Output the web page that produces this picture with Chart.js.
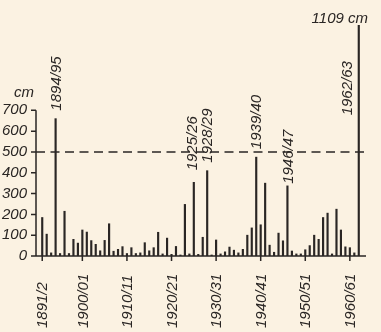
<!DOCTYPE html>
<html>
<head>
<meta charset="utf-8">
<script src="https://cdn.jsdelivr.net/npm/chart.js@4.4.1/dist/chart.umd.min.js"></script>
<style>
  html, body { margin: 0; background: #fbf2e2; }
  #wrap { width: 381px; height: 332px; }
</style>
</head>
<body>
<div id="wrap"><canvas id="snow"></canvas></div>
<script>
// winter seasons and snow depth in cm
const seasons = [
  '1891/2', '1892/93', '1893/94', '1894/95', '1895/96', '1896/97', '1897/98', '1898/99', '1899/00',
  '1900/01', '1901/02', '1902/03', '1903/04', '1904/05', '1905/06', '1906/07', '1907/08', '1908/09', '1909/10',
  '1910/11', '1911/12', '1912/13', '1913/14', '1914/15', '1915/16', '1916/17', '1917/18', '1918/19', '1919/20',
  '1920/21', '1921/22', '1922/23', '1923/24', '1924/25', '1925/26', '1926/27', '1927/28', '1928/29', '1929/30',
  '1930/31', '1931/32', '1932/33', '1933/34', '1934/35', '1935/36', '1936/37', '1937/38', '1938/39', '1939/40',
  '1940/41', '1941/42', '1942/43', '1943/44', '1944/45', '1945/46', '1946/47', '1947/48', '1948/49', '1949/50',
  '1950/51', '1951/52', '1952/53', '1953/54', '1954/55', '1955/56', '1956/57', '1957/58', '1958/59', '1959/60',
  '1960/61', '1961/62', '1962/63'
];
const snowCm = [
  185, 105, 15, 660, 12, 215, 12, 80, 62,
  125, 115, 74, 56, 25, 75, 155, 23, 32, 45,
  12, 40, 12, 15, 64, 25, 40, 114, 10, 86,
  8, 46, 5, 248, 10, 354, 8, 90, 410, 5,
  77, 10, 20, 43, 28, 15, 32, 100, 135, 475,
  150, 350, 52, 18, 110, 73, 337, 24, 10, 10,
  30, 50, 100, 80, 185, 206, 10, 225, 125, 44,
  40, 15, 1109
];
const yTicks = [0, 100, 200, 300, 400, 500, 600, 700];
const xTickSeasons = ['1891/2', '1900/01', '1910/11', '1920/21', '1930/31', '1940/41', '1950/51', '1960/61'];
const markedSeasons = ['1894/95', '1925/26', '1928/29', '1939/40', '1946/47', '1962/63'];
const thresholdCm = 500;
const peakText = '1109 cm';

const ink = '#2a2624';
const font = 'italic 15px "Liberation Sans", sans-serif';
// [dx, gap above bar top] for the season labels
const labelNudge = { '1925/26': [-1, 12], '1946/47': [1, 2], '1962/63': [-11, -5] };

const decor = {
  id: 'decor',
  beforeDraw(chart) {
    const c = chart.ctx;
    c.save();
    c.fillStyle = '#fbf2e2';
    c.fillRect(0, 0, chart.width, chart.height);
    c.restore();
  },
  afterDraw(chart) {
    const c = chart.ctx;
    const xs = chart.scales.x, ys = chart.scales.y;
    const y0 = ys.getPixelForValue(0);
    const axX = chart.chartArea.left - 4;
    c.save();
    c.strokeStyle = ink;
    c.fillStyle = ink;
    c.lineWidth = 1.5;

    // axes
    c.beginPath();
    c.moveTo(axX, y0);
    c.lineTo(axX, ys.getPixelForValue(700));
    c.moveTo(axX - 5, y0);
    c.lineTo(chart.chartArea.right + 5, y0);
    yTicks.forEach(v => {
      const y = ys.getPixelForValue(v);
      c.moveTo(axX - 5, y);
      c.lineTo(axX, y);
    });
    xTickSeasons.forEach(s => {
      const x = xs.getPixelForValue(seasons.indexOf(s));
      c.moveTo(x, y0);
      c.lineTo(x, y0 + 5);
    });
    c.stroke();

    // 500 cm line
    c.beginPath();
    c.setLineDash([9, 5.5]);
    const yt = ys.getPixelForValue(thresholdCm);
    c.moveTo(axX, yt);
    c.lineTo(chart.chartArea.right + 8, yt);
    c.stroke();
    c.setLineDash([]);

    c.font = font;
    c.textAlign = 'center';
    c.textBaseline = 'middle';
    c.fillText('cm', 24, 93);
    c.textAlign = 'right';
    c.textBaseline = 'alphabetic';
    c.fillText(peakText, 368, 23);

    // rotated season labels
    c.textAlign = 'left';
    c.textBaseline = 'middle';
    markedSeasons.forEach(s => {
      const i = seasons.indexOf(s);
      const [dx, gap] = labelNudge[s] || [1, 8];
      const x = xs.getPixelForValue(i) + dx;
      const y = ys.getPixelForValue(Math.min(snowCm[i], 700)) - gap;
      c.save();
      c.translate(x, y);
      c.rotate(-Math.PI / 2);
      c.fillText(s, 0, 0);
      c.restore();
    });
    xTickSeasons.forEach(s => {
      const x = xs.getPixelForValue(seasons.indexOf(s)) + 1;
      c.save();
      c.translate(x, 328);
      c.rotate(-Math.PI / 2);
      c.fillText(s, 0, 0);
      c.restore();
    });
    c.restore();
  }
};

new Chart(document.getElementById('snow'), {
  type: 'bar',
  data: {
    labels: seasons,
    datasets: [{
      data: snowCm,
      backgroundColor: ink,
      barThickness: 1.5
    }]
  },
  options: {
    responsive: true,
    maintainAspectRatio: false,
    animation: false,
    layout: { padding: { top: 25, right: 20, bottom: 68, left: 0 } },
    plugins: { legend: { display: false }, tooltip: { enabled: false } },
    scales: {
      x: {
        offset: true,
        grid: { display: false },
        border: { display: false },
        ticks: { display: false }
      },
      y: {
        min: 0,
        max: 1110,
        afterBuildTicks(scale) { scale.ticks = yTicks.map(v => ({ value: v })); },
        afterFit(scale) { scale.width = 40; },
        grid: { display: false, drawTicks: false },
        border: { display: false },
        ticks: { color: ink, font: { family: 'Liberation Sans', size: 15, style: 'italic' }, padding: 13 }
      }
    }
  },
  plugins: [decor]
});
</script>
</body>
</html>
